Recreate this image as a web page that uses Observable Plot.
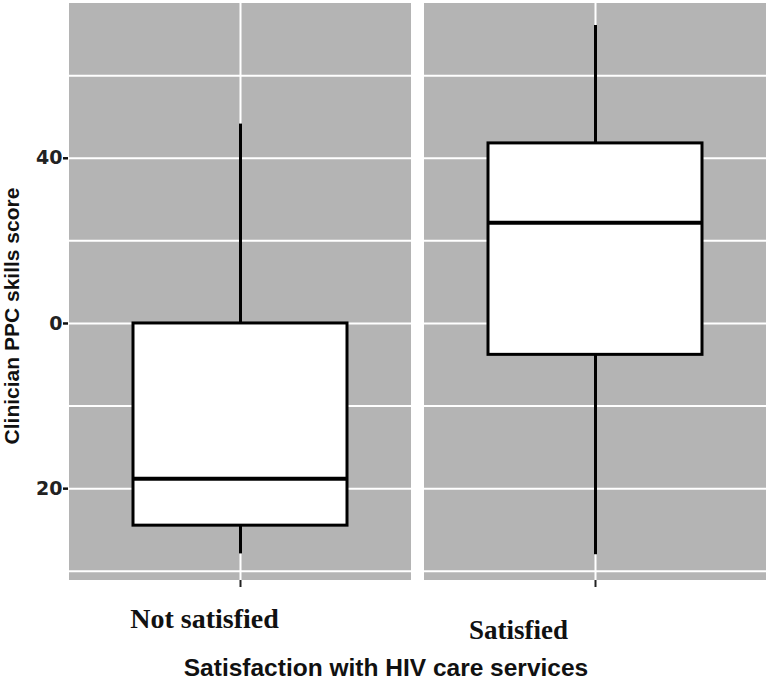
<!DOCTYPE html>
<html><head><meta charset="utf-8">
<script src="https://cdn.jsdelivr.net/npm/d3@7"></script>
<script src="https://cdn.jsdelivr.net/npm/@observablehq/plot@0.6"></script>
<style>body{margin:0;background:#fff}#chart svg{display:block}</style>
</head><body><div id="chart"></div>
<script>
const groups = ["Not satisfied", "Satisfied"];
const whiskerLow = [16.05, 16.0];
const q1 = [17.76, 28.1];
const median = [20.6, 36.1];
const q3 = [30.0, 40.9];
const whiskerHigh = [42.07, 48.04];
const yTicks = [20, 30, 40];
const yTickLabels = ["20", "0", "40"];
const gridValues = [15, 20, 25, 30, 35, 40, 45];
const yDomain = [14.44, 49.37];
const yTitle = "Clinician PPC skills score";
const xTitle = "Satisfaction with HIV care services";

const stats = groups.map((g, i) => ({group: g, low: whiskerLow[i], q1: q1[i], median: median[i], q3: q3[i], high: whiskerHigh[i]}));
const panels = groups.map(g => ({group: g, y1: yDomain[0], y2: yDomain[1]}));

const boxInset = 64;
const sans = "Liberation Sans, Arial, sans-serif";
const serif = "Liberation Serif, Times New Roman, serif";

const chart = Plot.plot({
  width: 771,
  height: 682,
  marginLeft: 68,
  marginRight: 4,
  marginTop: 3,
  marginBottom: 102,
  style: {background: "#fff", overflow: "visible"},
  x: {type: "band", domain: groups, paddingInner: 0.0354, paddingOuter: 0},
  y: {domain: yDomain},
  marks: [
    Plot.barY(panels, {x: "group", y1: "y1", y2: "y2", fill: "#b4b4b4"}),
    Plot.gridY(gridValues, {stroke: "#ffffff", strokeOpacity: 1, strokeWidth: 2}),
    Plot.gridX(groups, {stroke: "#ffffff", strokeOpacity: 1, strokeWidth: 2}),
    Plot.ruleX(stats, {x: "group", y1: "q3", y2: "high", stroke: "#000", strokeWidth: 3}),
    Plot.ruleX(stats, {x: "group", y1: "low", y2: "q1", stroke: "#000", strokeWidth: 3}),
    Plot.barY(stats, {x: "group", y1: "q1", y2: "q3", fill: "#fff", stroke: "#000", strokeWidth: 3, insetLeft: boxInset, insetRight: boxInset}),
    Plot.tickY(stats, {x: "group", y: "median", stroke: "#000", strokeWidth: 4, insetLeft: boxInset, insetRight: boxInset}),
    Plot.axisY(yTicks, {tickSize: 5, tickPadding: 1, strokeWidth: 2.5, stroke: "#111", tickFormat: d => yTickLabels[yTicks.indexOf(d)], fontSize: 19, fontFamily: "DejaVu Sans", fontWeight: "bold", fill: "#222", label: null}),
    Plot.axisX(groups, {tickSize: 7, strokeWidth: 2, stroke: "#222", tickFormat: () => "", label: null}),
    Plot.text([groups[0]], {x: d => d, frameAnchor: "bottom", dx: -36, dy: 47, fontSize: 28, fontFamily: serif, fontWeight: "bold", fill: "#111"}),
    Plot.text([groups[1]], {x: d => d, frameAnchor: "bottom", dx: -77, dy: 58, fontSize: 27, fontFamily: serif, fontWeight: "bold", fill: "#111"}),
    Plot.text([yTitle], {frameAnchor: "left", textAnchor: "middle", rotate: -90, dx: -56, dy: 24, fontSize: 21, fontFamily: sans, fontWeight: "bold", fill: "#111"}),
    Plot.text([xTitle], {frameAnchor: "bottom", dx: -32, dy: 95, fontSize: 24.5, fontFamily: sans, fontWeight: "bold", fill: "#111"})
  ]
});
document.getElementById("chart").append(chart);
</script>
</body></html>
